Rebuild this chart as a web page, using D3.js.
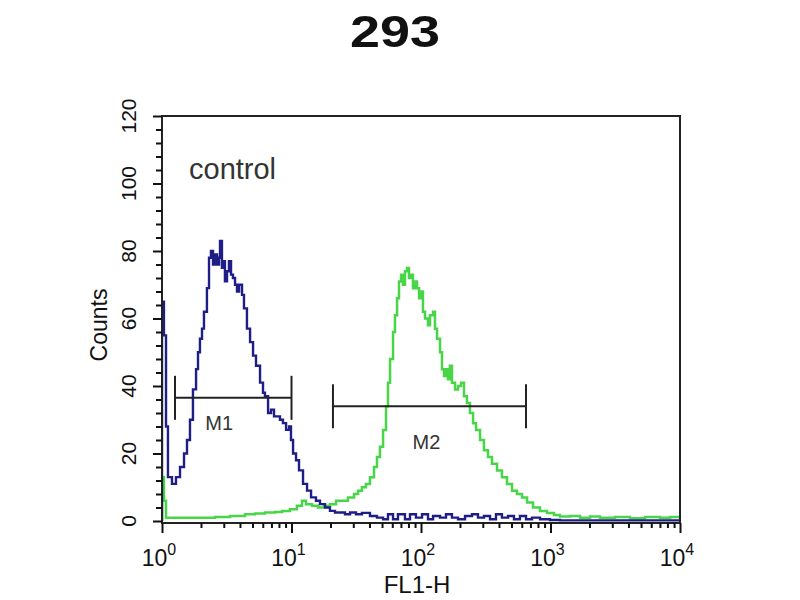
<!DOCTYPE html>
<html>
<head>
<meta charset="utf-8">
<script src="https://cdn.jsdelivr.net/npm/d3@7"></script>
<style>
  html, body { margin: 0; padding: 0; background: #fff; }
  svg { display: block; font-family: Arial, "Liberation Sans", sans-serif; }
</style>
</head>
<body>
<svg id="chart" width="800" height="600"></svg>
<script>
// ---- data ----
const chartTitle = "293";
const sampleLabel = "control";
const xLabel = "FL1-H";
const yLabel = "Counts";
const xDecades = [0, 1, 2, 3, 4];
const yTickLabels = [0, 20, 40, 60, 80, 100, 120];

// control (blue): log10(FL1-H) positions and counts
const blueDecade = [0, 0, 0.015, 0.031, 0.046, 0.077, 0.108, 0.139, 0.170, 0.193, 0.216, 0.239, 0.263, 0.278, 0.293, 0.309, 0.324, 0.347, 0.363, 0.378, 0.394, 0.409, 0.425, 0.440, 0.448, 0.463, 0.479, 0.486, 0.502, 0.517, 0.533, 0.548, 0.564, 0.579, 0.595, 0.618, 0.633, 0.656, 0.680, 0.703, 0.726, 0.757, 0.780, 0.795, 0.819, 0.842, 0.865, 0.888, 0.911, 0.934, 0.958, 0.981, 0.996, 1.012, 1.035, 1.058, 1.089, 1.120, 1.151, 1.189, 1.220, 1.259, 1.297, 1.336, 1.375, 1.413, 1.452, 1.498, 1.544, 1.606, 1.660, 1.707, 1.745, 1.784, 1.822, 1.876, 1.915, 1.961, 2.008, 2.054, 2.093, 2.147, 2.193, 2.239, 2.286, 2.340, 2.394, 2.440, 2.486, 2.533, 2.579, 2.625, 2.672, 2.718, 2.764, 2.811, 2.857, 2.919, 2.996, 3.073, 3.228, 3.537, 4.0];
const blueCount  = [0, 65, 55, 28, 13, 11, 13, 16, 20, 24, 30, 39, 45, 50, 54, 57, 62, 69, 78, 80, 76, 79, 76, 78, 83, 75, 77, 71, 74, 77, 73, 72, 70, 68, 70, 67, 63, 57, 53, 49, 46, 41, 38, 37, 32, 33, 31, 31, 30, 29, 27, 28, 24, 20, 18, 15, 11, 9, 7, 6, 5, 4, 3, 2.5, 2.5, 2, 2.5, 2, 2.4, 1.5, 1, 0.5, 2, 0.5, 2, 0.5, 2, 1, 2, 0.5, 1.5, 1, 2, 1, 0.5, 1.5, 2, 1, 1.5, 0.5, 2, 1, 1.5, 0.5, 1.5, 0.5, 1, 0.5, 0.3, 0.2, 0.2, 0.2, 0.2];

// sample (green): log10(FL1-H) positions and counts
const greenDecade = [0, 0, 0.015, 0.031, 0.139, 0.293, 0.409, 0.525, 0.641, 0.718, 0.795, 0.873, 0.927, 0.988, 1.042, 1.081, 1.112, 1.158, 1.205, 1.251, 1.297, 1.344, 1.390, 1.436, 1.483, 1.514, 1.544, 1.575, 1.606, 1.637, 1.660, 1.683, 1.707, 1.730, 1.745, 1.761, 1.784, 1.799, 1.815, 1.830, 1.846, 1.861, 1.876, 1.892, 1.907, 1.923, 1.938, 1.954, 1.969, 1.985, 2.000, 2.015, 2.031, 2.054, 2.069, 2.093, 2.108, 2.124, 2.147, 2.162, 2.178, 2.193, 2.208, 2.224, 2.239, 2.263, 2.286, 2.309, 2.332, 2.355, 2.378, 2.402, 2.425, 2.456, 2.486, 2.517, 2.548, 2.587, 2.625, 2.664, 2.703, 2.741, 2.780, 2.819, 2.865, 2.919, 2.973, 3.027, 3.073, 3.151, 3.228, 3.305, 3.382, 3.498, 3.614, 3.730, 3.846, 3.923, 4.0];
const greenCount  = [0, 13, 6, 1, 1, 1, 1.2, 1.5, 2, 2.2, 2.5, 2.7, 3, 3.5, 4.5, 6, 5, 4.5, 4, 4.5, 5, 6, 6, 7, 8, 9, 10, 11, 13, 16, 19, 22, 27, 34, 41, 48, 56, 61, 66, 71, 73, 70, 74, 75, 72, 73, 69, 71, 69, 66, 68, 62, 60, 58, 61, 62, 57, 54, 50, 45, 43, 45, 42, 46, 41, 39, 40, 41, 37, 35, 32, 29, 27, 24, 21, 19, 17, 15, 13, 11, 9, 8, 7, 5.5, 4, 3, 2.4, 1.8, 1.3, 1.5, 1, 1.3, 1, 1.2, 0.8, 1.2, 1, 1.2, 1];

// gate markers
const markerNames = ["M1", "M2"];
const markerStart = [1.26, 20.9];
const markerEnd = [10, 647];
const markerLevel = [36.5, 34];

// ---- drawing ----
(function () {
const svg = d3.select("#chart");
svg.append("rect").attr("width", 800).attr("height", 600).attr("fill", "#fff");

const pL = 162, pR = 680, pT = 116, pB = 523;
const x = d3.scaleLog().domain([1, 1e4]).range([pL, pR]);
const y = d3.scaleLinear().domain([0, 120]).range([521, pT]);

// title
svg.append("text").attr("x", 395).attr("y", 47).attr("text-anchor", "middle")
  .attr("font-size", 45).attr("font-weight", "bold").attr("fill", "#111")
  .attr("textLength", 90).attr("lengthAdjust", "spacingAndGlyphs")
  .text(chartTitle);

// clip
svg.append("clipPath").attr("id", "plotclip").append("rect")
  .attr("x", pL).attr("y", pT).attr("width", pR - pL).attr("height", pB - pT);

const line = d3.line()
  .x(d => x(Math.pow(10, d[0])))
  .y(d => y(d[1]))
  .curve(d3.curveStepAfter);

const plot = svg.append("g").attr("clip-path", "url(#plotclip)");
plot.append("path")
  .datum(greenDecade.map((d, i) => [d, greenCount[i]]))
  .attr("d", line).attr("fill", "none")
  .attr("stroke", "#48d648").attr("stroke-width", 2.5);
plot.append("path")
  .datum(blueDecade.map((d, i) => [d, blueCount[i]]))
  .attr("d", line).attr("fill", "none")
  .attr("stroke", "#1e1e86").attr("stroke-width", 2.4);

// frame
svg.append("rect").attr("x", pL).attr("y", pT)
  .attr("width", pR - pL).attr("height", pB - pT)
  .attr("fill", "none").attr("stroke", "#222").attr("stroke-width", 2);

// y axis
const yTicks = d3.range(0, 121, 4);
const yAxis = d3.axisLeft(y).tickValues(yTicks).tickSize(6).tickFormat("");
const yg = svg.append("g").attr("transform", `translate(${pL},0)`).call(yAxis);
yg.select(".domain").remove();
yg.selectAll(".tick line").attr("stroke", "#111").attr("stroke-width", 2)
  .attr("x2", d => (d % 20 === 0 ? -9 : -6));
svg.selectAll(".ylab").data(yTickLabels).enter().append("text")
  .attr("class", "ylab")
  .attr("transform", d => `translate(136,${y(d)}) rotate(-90)`)
  .attr("text-anchor", "middle").attr("font-size", 21).attr("fill", "#111")
  .text(d => d);

// x axis
const xTicks = [];
for (let e = 0; e < 4; e++) for (let m = 1; m < 10; m++) xTicks.push(m * Math.pow(10, e));
xTicks.push(1e4);
const xAxis = d3.axisBottom(x).tickValues(xTicks).tickSize(5).tickFormat("");
const xg = svg.append("g").attr("transform", `translate(0,${pB})`).call(xAxis);
xg.select(".domain").remove();
xg.selectAll(".tick line").attr("stroke", "#111").attr("stroke-width", 2)
  .attr("y2", d => (Math.abs(Math.log10(d) - Math.round(Math.log10(d))) < 1e-9 ? 10 : 5));

const xl = svg.selectAll(".xlab").data(xDecades).enter().append("text")
  .attr("class", "xlab")
  .attr("x", d => x(Math.pow(10, d)) - 3).attr("y", 566)
  .attr("text-anchor", "middle").attr("font-size", 23).attr("fill", "#111");
xl.append("tspan").text("10");
xl.append("tspan").attr("font-size", 16).attr("dy", -11).text(d => d);

// axis titles
svg.append("text").attr("x", 417).attr("y", 593).attr("text-anchor", "middle")
  .attr("font-size", 24).attr("fill", "#111").text(xLabel);
svg.append("text").attr("transform", "translate(107,325) rotate(-90)")
  .attr("text-anchor", "middle").attr("font-size", 23).attr("fill", "#111").text(yLabel);

// sample label
svg.append("text").attr("x", 189).attr("y", 179).attr("font-size", 29)
  .attr("fill", "#333").text(sampleLabel);

// markers
const markers = markerNames.map((n, i) => ({ n, s: markerStart[i], e: markerEnd[i], l: markerLevel[i] }));
const mg = svg.selectAll(".marker").data(markers).enter().append("g").attr("class", "marker");
mg.append("line").attr("x1", d => x(d.s)).attr("x2", d => x(d.e))
  .attr("y1", d => y(d.l)).attr("y2", d => y(d.l)).attr("stroke", "#222").attr("stroke-width", 2);
mg.append("line").attr("x1", d => x(d.s)).attr("x2", d => x(d.s))
  .attr("y1", d => y(d.l) - 22).attr("y2", d => y(d.l) + 22).attr("stroke", "#222").attr("stroke-width", 2);
mg.append("line").attr("x1", d => x(d.e)).attr("x2", d => x(d.e))
  .attr("y1", d => y(d.l) - 22).attr("y2", d => y(d.l) + 22).attr("stroke", "#222").attr("stroke-width", 2);
mg.append("text")
  .attr("x", d => (x(d.s) + x(d.e)) / 2 - 14 + (d.n === "M2" ? 11 : 0))
  .attr("y", d => y(d.l) + (d.n === "M1" ? 32 : 43))
  .attr("text-anchor", "middle").attr("font-size", 20).attr("fill", "#333")
  .text(d => d.n);
})();
</script>
</body>
</html>
